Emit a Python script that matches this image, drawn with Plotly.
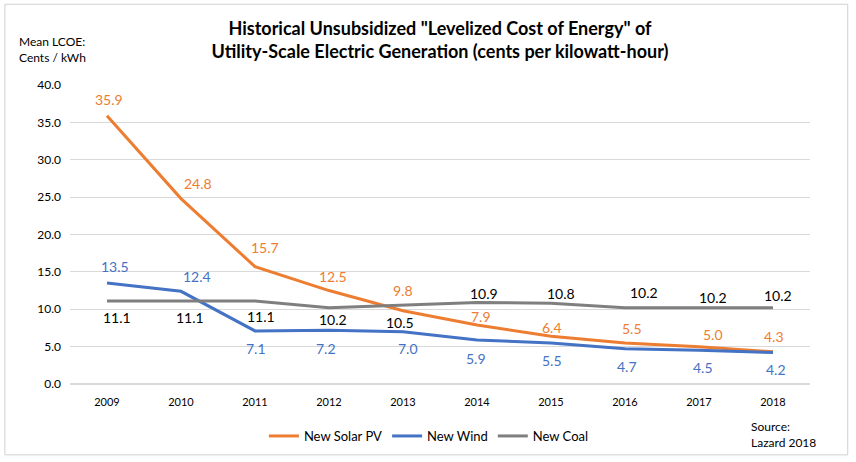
import plotly.graph_objects as go

years = [2009, 2010, 2011, 2012, 2013, 2014, 2015, 2016, 2017, 2018]
solar = [35.9, 24.8, 15.7, 12.5, 9.8, 7.9, 6.4, 5.5, 5.0, 4.3]
wind = [13.5, 12.4, 7.1, 7.2, 7.0, 5.9, 5.5, 4.7, 4.5, 4.2]
coal = [11.1, 11.1, 11.1, 10.2, 10.5, 10.9, 10.8, 10.2, 10.2, 10.2]

# label offsets in pixels (xshift, yshift) per point
solar_off = [(2, 16), (17, 15), (10, 19), (4, 14), (0, 20), (4, 8), (1, 9), (7, 14), (14, 12), (1, 15)]
wind_off = [(8, 17), (16, 15), (1, -18), (-3, -18), (5, -17), (-1, -19), (1, -18), (2, -18), (4, -17), (3, -17)]
coal_off = [(10, -16), (9, -16), (6, -15), (4, -12), (-3, -17), (7, 9), (10, 10), (19, 15), (14, 10), (5, 12)]

ORANGE = "#ED7D31"
BLUE = "#4472C4"
GRAY = "#7F7F7F"
FONT = "Lato"

fig = go.Figure()

#====== series ======
fig.add_trace(go.Scatter(x=years, y=solar, mode="lines", name="New Solar PV",
                         line=dict(color=ORANGE, width=3)))
fig.add_trace(go.Scatter(x=years, y=wind, mode="lines", name="New Wind",
                         line=dict(color=BLUE, width=3)))
fig.add_trace(go.Scatter(x=years, y=coal, mode="lines", name="New Coal",
                         line=dict(color=GRAY, width=3)))

#====== data labels ======
for vals, offs, col in [(solar, solar_off, ORANGE), (wind, wind_off, BLUE), (coal, coal_off, "black")]:
    for yr, v, (dx, dy) in zip(years, vals, offs):
        fig.add_annotation(x=yr, y=v, text=f"{v:.1f}", showarrow=False,
                           xshift=dx, yshift=dy,
                           font=dict(color=col, size=14, family=FONT))

fig.update_layout(
    width=856, height=462,
    margin=dict(l=70, r=46, t=85, b=77),
    paper_bgcolor="white", plot_bgcolor="white",
    font=dict(family=FONT, color="black"),
    title=dict(
        text="<b>Historical Unsubsidized \"Levelized Cost of Energy\" of<br>"
             "Utility-Scale Electric Generation (cents per kilowatt-hour)</b>",
        x=0.514, xanchor="center", y=0.925, yanchor="top",
        font=dict(size=18, family=FONT)),
    showlegend=True,
    legend=dict(orientation="h", x=0.485, xanchor="center", y=-0.12, yanchor="top",
                font=dict(size=13, family=FONT)),
    xaxis=dict(range=[2008.5, 2018.5], tickmode="array", tickvals=years,
               showgrid=False, showline=False, zeroline=False, ticks="",
               ticklabelstandoff=10, tickfont=dict(size=11, family=FONT)),
    yaxis=dict(range=[0, 40], dtick=5, tickformat=".1f", showgrid=True,
               gridcolor="#D9D9D9", gridwidth=1, zeroline=True,
               zerolinecolor="#D9D9D9", ticks="", ticklabelstandoff=8,
               tickfont=dict(size=12, family=FONT)),
)

fig.add_annotation(xref="paper", yref="paper", x=-0.072, y=1.06, xanchor="left",
                   yanchor="bottom", align="left", showarrow=False,
                   text="Mean LCOE:<br>Cents / kWh", font=dict(size=12, family=FONT))
fig.add_annotation(xref="paper", yref="paper", x=0.918, y=-0.11, xanchor="left",
                   yanchor="top", align="left", showarrow=False,
                   text="Source:<br>Lazard 2018", font=dict(size=12, family=FONT))

# outer frame
fig.add_shape(type="rect", xref="paper", yref="paper",
              x0=-0.088, x1=1.051, y0=-0.237, y1=1.27,
              line=dict(color="#D0D0D0", width=1))

fig.write_html("out.html", config={"displayModeBar": False})

# drop the default body margin so the figure sits at the window's corner
with open("out.html", encoding="utf-8") as f:
    html = f.read()
html = html.replace("<body>", '<body style="margin:0">', 1)
with open("out.html", "w", encoding="utf-8") as f:
    f.write(html)
